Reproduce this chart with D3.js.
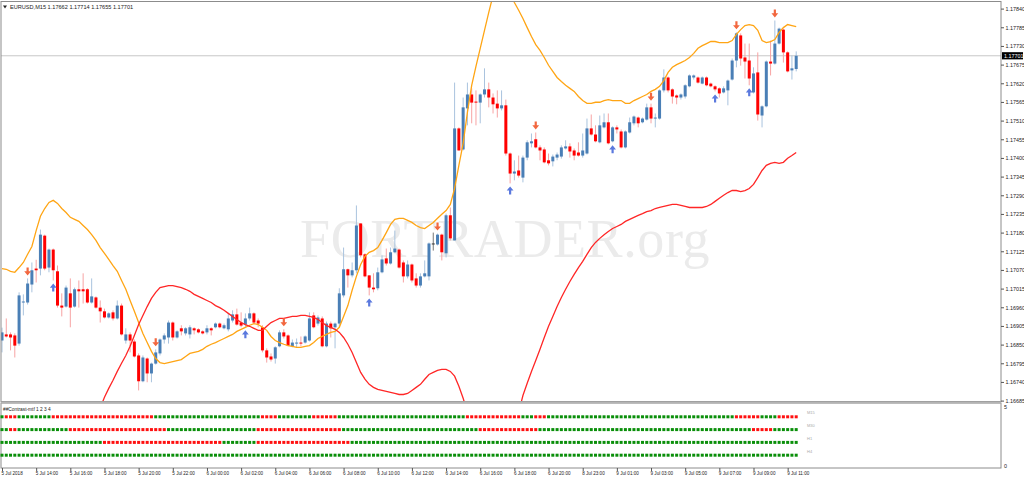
<!DOCTYPE html>
<html><head><meta charset="utf-8">
<script src="https://cdn.jsdelivr.net/npm/d3@7"></script>
<style>body{margin:0;background:#fff}svg{display:block}</style>
</head><body>
<svg id="c" width="1024" height="480"></svg>
<script>
const symbolName = "EURUSD,M15";
const opens = [1.16862,1.16880,1.16880,1.16877,1.16853,1.16974,1.16974,1.17027,1.17074,1.17074,1.17171,1.17077,1.17130,1.17066,1.16965,1.16962,1.17001,1.16962,1.17013,1.17013,1.17013,1.16974,1.16989,1.16959,1.16948,1.16930,1.16945,1.16927,1.16965,1.16862,1.16880,1.16859,1.16818,1.16742,1.16809,1.16765,1.16794,1.16824,1.16865,1.16871,1.16915,1.16871,1.16898,1.16883,1.16880,1.16898,1.16895,1.16889,1.16886,1.16898,1.16901,1.16912,1.16898,1.16895,1.16921,1.16939,1.16915,1.16909,1.16927,1.16942,1.16921,1.16901,1.16833,1.16815,1.16809,1.16845,1.16886,1.16877,1.16845,1.16853,1.16856,1.16856,1.16862,1.16936,1.16912,1.16927,1.16845,1.16912,1.16901,1.16912,1.16995,1.17072,1.17054,1.17069,1.17207,1.17116,1.17054,1.17018,1.17016,1.17063,1.17104,1.17089,1.17122,1.17130,1.17092,1.17051,1.17086,1.17045,1.17024,1.17051,1.17051,1.17148,1.17145,1.17174,1.17119,1.17231,1.17157,1.17487,1.17425,1.17546,1.17587,1.17566,1.17563,1.17587,1.17602,1.17578,1.17560,1.17546,1.17555,1.17413,1.17354,1.17363,1.17342,1.17401,1.17443,1.17455,1.17431,1.17425,1.17393,1.17390,1.17401,1.17404,1.17428,1.17434,1.17422,1.17416,1.17407,1.17413,1.17487,1.17469,1.17446,1.17490,1.17505,1.17449,1.17490,1.17478,1.17431,1.17475,1.17502,1.17519,1.17505,1.17513,1.17549,1.17516,1.17516,1.17599,1.17637,1.17602,1.17584,1.17578,1.17581,1.17611,1.17637,1.17637,1.17619,1.17637,1.17619,1.17611,1.17605,1.17593,1.17599,1.17631,1.17687,1.17761,1.17696,1.17687,1.17593,1.17652,1.17525,1.17552,1.17684,1.17678,1.17737,1.17778,1.17711,1.17658,1.17662];
const highs = [1.16900,1.16927,1.16886,1.16883,1.17004,1.16998,1.17045,1.17092,1.17100,1.17189,1.17174,1.17133,1.17133,1.17083,1.17001,1.17024,1.17045,1.17018,1.17039,1.17060,1.17016,1.17045,1.16992,1.16980,1.16956,1.16945,1.16951,1.16980,1.16971,1.16898,1.16886,1.16865,1.16824,1.16818,1.16812,1.16797,1.16836,1.16868,1.16883,1.16921,1.16918,1.16892,1.16907,1.16901,1.16907,1.16901,1.16898,1.16892,1.16907,1.16901,1.16915,1.16915,1.16912,1.16942,1.16951,1.16956,1.16945,1.16942,1.16959,1.16945,1.16927,1.16907,1.16839,1.16824,1.16845,1.16892,1.16895,1.16880,1.16865,1.16868,1.16874,1.16877,1.16945,1.16945,1.16936,1.16933,1.16918,1.16918,1.16915,1.17016,1.17136,1.17074,1.17092,1.17260,1.17207,1.17119,1.17054,1.17060,1.17077,1.17113,1.17133,1.17136,1.17186,1.17133,1.17098,1.17098,1.17089,1.17060,1.17060,1.17098,1.17151,1.17180,1.17177,1.17177,1.17236,1.17254,1.17622,1.17490,1.17578,1.17622,1.17605,1.17599,1.17590,1.17664,1.17622,1.17590,1.17599,1.17599,1.17572,1.17416,1.17393,1.17407,1.17407,1.17452,1.17472,1.17475,1.17437,1.17431,1.17413,1.17410,1.17416,1.17437,1.17452,1.17443,1.17428,1.17446,1.17472,1.17516,1.17528,1.17496,1.17525,1.17531,1.17531,1.17493,1.17496,1.17484,1.17481,1.17519,1.17525,1.17522,1.17519,1.17560,1.17560,1.17531,1.17602,1.17661,1.17640,1.17605,1.17587,1.17590,1.17617,1.17646,1.17646,1.17640,1.17640,1.17640,1.17622,1.17614,1.17608,1.17611,1.17631,1.17693,1.17770,1.17767,1.17737,1.17737,1.17667,1.17711,1.17555,1.17687,1.17746,1.17805,1.17784,1.17781,1.17714,1.17702,1.17714];
const lows = [1.16827,1.16871,1.16833,1.16812,1.16847,1.16936,1.16968,1.17004,1.17033,1.17054,1.17069,1.17063,1.17039,1.16959,1.16933,1.16959,1.16901,1.16959,1.16959,1.16971,1.16971,1.16971,1.16956,1.16915,1.16927,1.16927,1.16921,1.16924,1.16877,1.16853,1.16827,1.16812,1.16715,1.16739,1.16739,1.16739,1.16791,1.16818,1.16853,1.16853,1.16862,1.16868,1.16877,1.16877,1.16868,1.16880,1.16883,1.16880,1.16880,1.16877,1.16898,1.16898,1.16895,1.16889,1.16915,1.16906,1.16901,1.16901,1.16921,1.16912,1.16901,1.16827,1.16797,1.16800,1.16794,1.16842,1.16868,1.16845,1.16842,1.16842,1.16845,1.16853,1.16859,1.16898,1.16906,1.16842,1.16842,1.16871,1.16839,1.16901,1.16989,1.17018,1.17048,1.17060,1.17107,1.17048,1.16995,1.17004,1.17010,1.17060,1.17083,1.17086,1.17119,1.17074,1.17033,1.17045,1.17033,1.17018,1.17018,1.17048,1.17039,1.17127,1.17142,1.17098,1.17107,1.17157,1.17157,1.17422,1.17422,1.17496,1.17502,1.17496,1.17502,1.17578,1.17549,1.17531,1.17519,1.17540,1.17407,1.17325,1.17334,1.17342,1.17328,1.17393,1.17431,1.17428,1.17393,1.17384,1.17378,1.17375,1.17393,1.17398,1.17425,1.17401,1.17393,1.17404,1.17401,1.17410,1.17466,1.17446,1.17443,1.17487,1.17440,1.17446,1.17472,1.17428,1.17428,1.17472,1.17496,1.17490,1.17502,1.17510,1.17502,1.17490,1.17513,1.17593,1.17593,1.17560,1.17558,1.17572,1.17575,1.17608,1.17631,1.17619,1.17617,1.17611,1.17608,1.17596,1.17578,1.17590,1.17555,1.17628,1.17667,1.17672,1.17634,1.17614,1.17590,1.17510,1.17490,1.17549,1.17643,1.17675,1.17734,1.17681,1.17652,1.17631,1.17655];
const closes = [1.16886,1.16874,1.16871,1.16847,1.16995,1.16977,1.17030,1.17069,1.17069,1.17174,1.17074,1.17130,1.17069,1.16965,1.16959,1.17018,1.16959,1.17013,1.17007,1.17007,1.16974,1.16992,1.16959,1.16948,1.16930,1.16942,1.16927,1.16965,1.16880,1.16880,1.16862,1.16815,1.16742,1.16812,1.16765,1.16794,1.16827,1.16865,1.16877,1.16915,1.16871,1.16889,1.16889,1.16898,1.16901,1.16892,1.16886,1.16883,1.16898,1.16892,1.16912,1.16901,1.16907,1.16927,1.16939,1.16909,1.16906,1.16927,1.16942,1.16915,1.16912,1.16833,1.16812,1.16806,1.16842,1.16886,1.16874,1.16847,1.16856,1.16856,1.16853,1.16874,1.16927,1.16901,1.16930,1.16845,1.16912,1.16898,1.16912,1.17001,1.17072,1.17054,1.17069,1.17201,1.17113,1.17051,1.17018,1.17013,1.17063,1.17101,1.17089,1.17122,1.17133,1.17077,1.17051,1.17086,1.17039,1.17024,1.17051,1.17060,1.17148,1.17148,1.17174,1.17122,1.17231,1.17163,1.17487,1.17422,1.17549,1.17587,1.17563,1.17563,1.17587,1.17602,1.17578,1.17558,1.17546,1.17555,1.17413,1.17354,1.17360,1.17348,1.17401,1.17446,1.17449,1.17431,1.17422,1.17387,1.17384,1.17404,1.17410,1.17431,1.17434,1.17419,1.17407,1.17407,1.17422,1.17487,1.17469,1.17449,1.17496,1.17505,1.17443,1.17490,1.17484,1.17431,1.17478,1.17505,1.17522,1.17502,1.17516,1.17549,1.17516,1.17519,1.17599,1.17637,1.17599,1.17581,1.17578,1.17587,1.17614,1.17643,1.17643,1.17622,1.17637,1.17614,1.17611,1.17602,1.17590,1.17605,1.17628,1.17687,1.17767,1.17693,1.17684,1.17634,1.17649,1.17528,1.17552,1.17684,1.17678,1.17737,1.17781,1.17711,1.17655,1.17664,1.17701];
const upperBand = [1.17074,1.17072,1.17066,1.17063,1.17077,1.17092,1.17116,1.17139,1.17186,1.17228,1.17251,1.17269,1.17275,1.17266,1.17251,1.17239,1.17225,1.17219,1.17213,1.17201,1.17189,1.17174,1.17157,1.17136,1.17119,1.17101,1.17083,1.17066,1.17039,1.17013,1.16980,1.16948,1.16915,1.16883,1.16856,1.16830,1.16809,1.16797,1.16794,1.16797,1.16800,1.16803,1.16806,1.16815,1.16824,1.16827,1.16830,1.16836,1.16845,1.16851,1.16856,1.16862,1.16868,1.16874,1.16880,1.16889,1.16895,1.16901,1.16907,1.16912,1.16909,1.16901,1.16892,1.16874,1.16862,1.16856,1.16851,1.16847,1.16845,1.16842,1.16842,1.16845,1.16847,1.16856,1.16868,1.16874,1.16880,1.16886,1.16889,1.16901,1.16933,1.16965,1.17010,1.17051,1.17086,1.17110,1.17122,1.17127,1.17136,1.17157,1.17180,1.17204,1.17219,1.17222,1.17222,1.17216,1.17210,1.17201,1.17195,1.17192,1.17201,1.17210,1.17222,1.17234,1.17245,1.17263,1.17310,1.17378,1.17443,1.17534,1.17614,1.17670,1.17723,1.17776,1.17829,1.17879,1.17908,1.17917,1.17908,1.17888,1.17858,1.17835,1.17811,1.17784,1.17758,1.17734,1.17717,1.17696,1.17673,1.17655,1.17637,1.17625,1.17614,1.17605,1.17596,1.17581,1.17569,1.17561,1.17561,1.17564,1.17564,1.17569,1.17572,1.17569,1.17569,1.17569,1.17561,1.17561,1.17569,1.17575,1.17581,1.17587,1.17596,1.17602,1.17611,1.17628,1.17652,1.17667,1.17675,1.17681,1.17687,1.17696,1.17708,1.17723,1.17731,1.17737,1.17743,1.17743,1.17740,1.17740,1.17740,1.17746,1.17764,1.17778,1.17790,1.17793,1.17790,1.17776,1.17746,1.17740,1.17743,1.17749,1.17770,1.17784,1.17793,1.17790,1.17787];
const lowerBand = [null,null,null,null,null,null,null,null,null,null,null,null,null,null,null,null,null,null,null,null,null,1.16569,1.16613,1.16663,1.16695,1.16721,1.16745,1.16771,1.16795,1.16818,1.16845,1.16877,1.16909,1.16936,1.16962,1.16986,1.17004,1.17018,1.17021,1.17024,1.17024,1.17021,1.17018,1.17013,1.17007,1.16998,1.16992,1.16986,1.16980,1.16974,1.16965,1.16959,1.16951,1.16942,1.16933,1.16924,1.16915,1.16909,1.16904,1.16898,1.16892,1.16892,1.16904,1.16915,1.16921,1.16927,1.16927,1.16930,1.16933,1.16933,1.16936,1.16936,1.16933,1.16930,1.16924,1.16915,1.16906,1.16901,1.16895,1.16886,1.16871,1.16851,1.16827,1.16797,1.16768,1.16748,1.16733,1.16724,1.16718,1.16715,1.16712,1.16709,1.16706,1.16703,1.16703,1.16706,1.16715,1.16724,1.16733,1.16748,1.16762,1.16768,1.16774,1.16777,1.16777,1.16771,1.16757,1.16727,1.16692,1.16651,1.16613,1.16569,1.16533,1.16506,1.16491,1.16486,1.16489,1.16503,1.16525,1.16551,1.16598,1.16650,1.16700,1.16736,1.16771,1.16803,1.16836,1.16871,1.16904,1.16933,1.16962,1.16989,1.17013,1.17036,1.17057,1.17077,1.17095,1.17116,1.17136,1.17151,1.17163,1.17174,1.17183,1.17192,1.17198,1.17204,1.17213,1.17219,1.17225,1.17231,1.17236,1.17242,1.17245,1.17251,1.17254,1.17257,1.17260,1.17263,1.17263,1.17260,1.17257,1.17254,1.17254,1.17254,1.17254,1.17257,1.17263,1.17272,1.17281,1.17290,1.17298,1.17304,1.17304,1.17301,1.17304,1.17310,1.17322,1.17342,1.17363,1.17378,1.17384,1.17387,1.17384,1.17387,1.17399,1.17407,1.17416];
const downArrowBars = [6,36,66,102,125,152,172,181];
const upArrowBars = [12,57,86,119,143,167,175];
const timeLabels = ["5 Jul 2018","5 Jul 14:00","5 Jul 16:00","5 Jul 18:00","5 Jul 20:00","5 Jul 22:00","6 Jul 00:00","6 Jul 02:00","6 Jul 04:00","6 Jul 06:00","6 Jul 08:00","6 Jul 10:00","6 Jul 12:00","6 Jul 14:00","6 Jul 16:00","6 Jul 18:00","6 Jul 20:00","8 Jul 23:00","9 Jul 01:00","9 Jul 03:00","9 Jul 05:00","9 Jul 07:00","9 Jul 09:00","9 Jul 11:00"];
const barsPerLabel = 8;
const priceTicks = [1.17840,1.17785,1.17730,1.17675,1.17620,1.17565,1.17510,1.17455,1.17400,1.17345,1.17290,1.17235,1.17180,1.17125,1.17070,1.17015,1.16960,1.16905,1.16850,1.16795,1.16740,1.16685];
const indicatorTitle = "##Contrast-mtf 1 2 3 4";
const mtfNames = ["M15","M30","H1","H4"];
const indicatorTicks = [0, 5];
// runs of [state, bars]: 1 = red, 0 = green
const m15Runs = [[0,1],[1,3],[0,8],[1,24],[0,25],[1,4],[0,8],[1,6],[0,30],[1,13],[0,3],[1,3],[0,44],[1,6],[0,4],[1,5]];
const m30Runs = [[0,2],[1,2],[0,12],[1,23],[0,21],[1,20],[0,32],[1,14],[0,50],[1,5],[0,6]];
const h1Runs = [[0,24],[1,28],[0,8],[1,22],[0,105]];
const h4Runs = [[0,187]];
const watermark = "FORTRADER.org";

const N = opens.length;
const svg = d3.select("#c");
const fmt = d3.format(".5f");
const font = "'Liberation Sans',Arial,sans-serif";
const plot = {left:1, right:1001, top:1.5, bottom:401.5};
const pane = {top:404, bottom:468};

const x = d3.scaleLinear().domain([0, N - 1]).range([2, 796.2]);
const y = d3.scaleLinear().domain([1.16685, 1.17840]).range([400.6, 8.6]);
const yInd = d3.scaleLinear().domain([0, 5]).range([pane.bottom, pane.top]);

svg.append("defs").append("clipPath").attr("id","clipMain")
  .append("rect").attr("x",plot.left).attr("y",plot.top).attr("width",plot.right-plot.left).attr("height",plot.bottom-plot.top);

// watermark
svg.append("text").text(watermark)
  .attr("x", 300).attr("y", 257)
  .attr("font-family","'Liberation Serif','Times New Roman',serif")
  .attr("font-size", 54).attr("letter-spacing", 0.6)
  .attr("fill","#ebebeb");

// current price line
svg.append("line").attr("x1",plot.left).attr("x2",plot.right)
  .attr("y1",y(closes[N-1])).attr("y2",y(closes[N-1]))
  .attr("stroke","#c8c8c8").attr("stroke-width",1);

const main = svg.append("g").attr("clip-path","url(#clipMain)");
const bars = d3.range(N);
const bull = i => closes[i] > opens[i];
const bear = i => closes[i] < opens[i];
const wickColor = i => bull(i) ? "#a9c3de" : bear(i) ? "#f7a3a3" : "#777";
const bodyColor = i => bull(i) ? "#4a7fb6" : bear(i) ? "#ff0000" : "#333";

main.selectAll("line.wick").data(bars).join("line").attr("class","wick")
  .attr("x1",i=>x(i)).attr("x2",i=>x(i))
  .attr("y1",i=>y(highs[i])).attr("y2",i=>y(lows[i]))
  .attr("stroke",wickColor).attr("stroke-width",1);

main.selectAll("rect.body").data(bars).join("rect").attr("class","body")
  .attr("x",i=>x(i)-1.5).attr("width",3)
  .attr("y",i=>Math.min(y(opens[i]),y(closes[i])))
  .attr("height",i=>Math.max(1,Math.abs(y(opens[i])-y(closes[i]))))
  .attr("fill",bodyColor);

const lineGen = arr => d3.line().defined(i=>arr[i]!=null).x(i=>x(i)).y(i=>y(arr[i]));
main.append("path").attr("d",lineGen(upperBand)(bars)).attr("fill","none").attr("stroke","#ffa514").attr("stroke-width",1.3);
main.append("path").attr("d",lineGen(lowerBand)(bars)).attr("fill","none").attr("stroke","#ff2626").attr("stroke-width",1.3);

const downPath = "M-1.1,-8 L1.1,-8 L1.1,-4.2 L3.4,-4.2 L0,0 L-3.4,-4.2 L-1.1,-4.2 Z";
const upPath = "M-1.1,8 L1.1,8 L1.1,4.2 L3.4,4.2 L0,0 L-3.4,4.2 L-1.1,4.2 Z";
main.selectAll("path.dn").data(downArrowBars).join("path").attr("class","dn")
  .attr("d",downPath).attr("transform",i=>`translate(${x(i)},${y(highs[i])-3})`).attr("fill","#f2673f");
main.selectAll("path.up").data(upArrowBars).join("path").attr("class","up")
  .attr("d",upPath).attr("transform",i=>`translate(${x(i)},${y(lows[i])+3})`).attr("fill","#5b79de");

// frames
const frame = svg.append("g").attr("fill","none").attr("stroke","#8c8c8c");
frame.append("rect").attr("x",plot.left).attr("y",plot.top).attr("width",plot.right-plot.left).attr("height",plot.bottom-plot.top);
frame.append("rect").attr("x",plot.left).attr("y",pane.top-1).attr("width",plot.right-plot.left).attr("height",pane.bottom-pane.top+1);
svg.append("rect").attr("x",plot.left).attr("y",plot.bottom).attr("width",plot.right-plot.left).attr("height",2).attr("fill","#b4b4b4");

// header
svg.append("path").attr("d","M3,5.5 L7,5.5 L5,8.5 Z").attr("fill","#222");
svg.append("text").attr("x",10).attr("y",9)
  .attr("font-family",font).attr("font-size",5.6).attr("fill","#222")
  .text(`${symbolName}  ${fmt(opens[N-1])} ${fmt(highs[N-1])} ${fmt(lows[N-1])} ${fmt(closes[N-1])}`);

// price axis
const yAxis = d3.axisRight(y).tickValues(priceTicks).tickSize(3).tickPadding(1.5).tickFormat(fmt);
const ya = svg.append("g").attr("transform",`translate(${plot.right},0)`).call(yAxis);
ya.select(".domain").remove();
ya.selectAll(".tick line").attr("stroke","#555");
ya.selectAll("text").attr("font-family",font).attr("font-size",5.4).attr("fill","#222");

// current price box
const cy = y(closes[N-1]);
svg.append("rect").attr("x",plot.right+1).attr("y",cy-3.6).attr("width",21).attr("height",7.2).attr("fill","#000");
svg.append("text").attr("x",plot.right+3).attr("y",cy).attr("dy","0.35em")
  .attr("font-family",font).attr("font-size",5.4).attr("fill","#fff").text(fmt(closes[N-1]));

// time axis
const tickIdx = timeLabels.map((d,k)=>k*barsPerLabel);
const xAxis = d3.axisBottom(x).tickValues(tickIdx).tickSize(3).tickPadding(1).tickFormat((d,k)=>timeLabels[k]);
const xa = svg.append("g").attr("transform",`translate(0,${pane.bottom})`).call(xAxis);
xa.select(".domain").remove();
xa.selectAll(".tick line").attr("stroke","#555");
xa.selectAll("text").attr("text-anchor","start").attr("x",-1)
  .attr("font-family",font).attr("font-size",4.6).attr("fill","#222");

// indicator pane
svg.append("text").attr("x",3).attr("y",410.5)
  .attr("font-family",font).attr("font-size",4.8).attr("fill","#222").text(indicatorTitle);
const allRuns = [m15Runs, m30Runs, h1Runs, h4Runs];
allRuns.forEach((runs, r) => {
  const states = runs.flatMap(([s,c]) => Array(c).fill(s));
  const lvl = 4 - r;
  svg.append("g").selectAll("rect").data(states).join("rect")
    .attr("x",(s,i)=>x(i)-1.5).attr("y",yInd(lvl)-1.5).attr("width",3).attr("height",3)
    .attr("fill",s=> s ? "#ff1010" : "#0a8f0a");
  svg.append("text").attr("x",807).attr("y",yInd(lvl)-2.5)
    .attr("font-family",font).attr("font-size",4).attr("fill","#aaa").text(mtfNames[r]);
});
const indAxis = d3.axisRight(yInd).tickValues(indicatorTicks).tickSize(0).tickPadding(3).tickFormat(d3.format("d"));
const ia = svg.append("g").attr("transform",`translate(${plot.right},0)`).call(indAxis);
ia.select(".domain").remove();
ia.selectAll("text").attr("font-family",font).attr("font-size",5.4).attr("fill","#222")
  .attr("dy",d=> d===5 ? "0.9em" : "-0.1em");
</script>
</body></html>
